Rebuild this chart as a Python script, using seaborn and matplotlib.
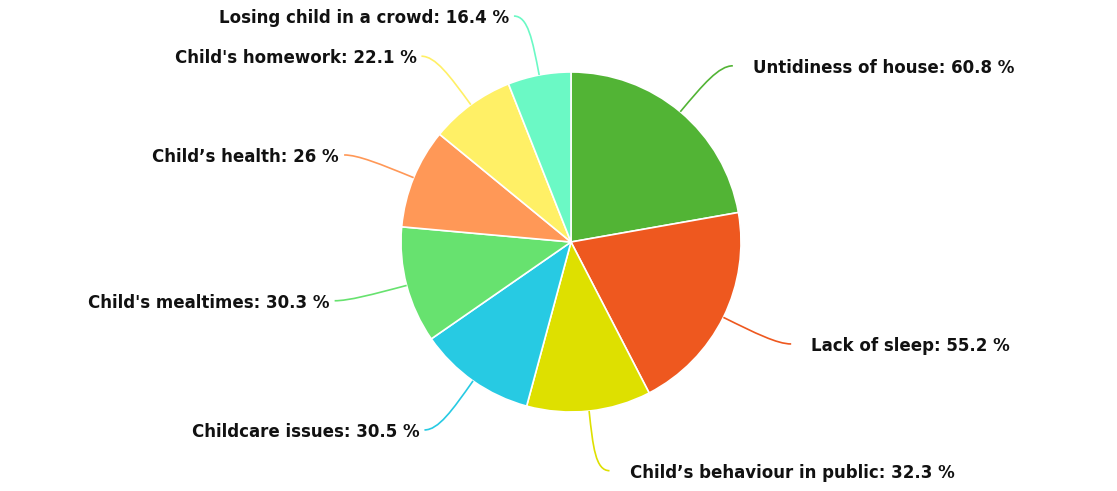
import numpy as np
import matplotlib
matplotlib.use("Agg")
import matplotlib.pyplot as plt
from matplotlib.path import Path
from matplotlib.patches import PathPatch
import seaborn as sns

categories = ["Untidiness of house", "Lack of sleep", "Child\u2019s behaviour in public",
              "Childcare issues", "Child's mealtimes", "Child\u2019s health",
              "Child's homework", "Losing child in a crowd"]
values = [60.8, 55.2, 32.3, 30.5, 30.3, 26, 22.1, 16.4]
value_labels = ["60.8", "55.2", "32.3", "30.5", "30.3", "26", "22.1", "16.4"]
colors = ["#52b435", "#ee581f", "#dee000", "#27cae3", "#67e26f", "#ff9857", "#fff066", "#6bf9c5"]

sns.set_style("white")
plt.rcParams['font.family'] = ['DejaVu Sans']

W, H = 1117, 491
fig = plt.figure(figsize=(W / 100, H / 100), dpi=100)
ax = fig.add_axes([0, 0, 1, 1])

cx, cy, R = 571, H - 242, 170
wedges, _ = ax.pie(values, colors=colors, startangle=90, counterclock=False,
                   center=(cx, cy), radius=R, frame=True,
                   wedgeprops=dict(edgecolor="white", linewidth=1.2))
ax.set_xlim(0, W)
ax.set_ylim(0, H)
ax.axis("off")

R_out = 230
L2 = 14
for w, cat, lab, col in zip(wedges, categories, value_labels, colors):
    ang = np.deg2rad((w.theta1 + w.theta2) / 2)
    d = np.array([np.cos(ang), np.sin(ang)])
    p0 = np.array([cx, cy]) + R * d
    p1 = np.array([cx, cy]) + R_out * d
    side = 1 if d[0] >= 0 else -1
    p2 = p1 + np.array([side * L2, 0])
    c1 = p0 + (p1 - p0) * 0.6
    path = Path([p0, c1, p1, p2], [Path.MOVETO, Path.CURVE4, Path.CURVE4, Path.CURVE4])
    ax.add_patch(PathPatch(path, facecolor="none", edgecolor=col, lw=1.2))
    gap = 20 if side > 0 else 5
    ax.text(p2[0] + side * gap, p2[1] - 2, f"{cat}: {lab} %",
            ha="left" if side > 0 else "right", va="center",
            fontsize=12, fontweight="bold", color="#111111")

fig.savefig("out.png", dpi=100)
